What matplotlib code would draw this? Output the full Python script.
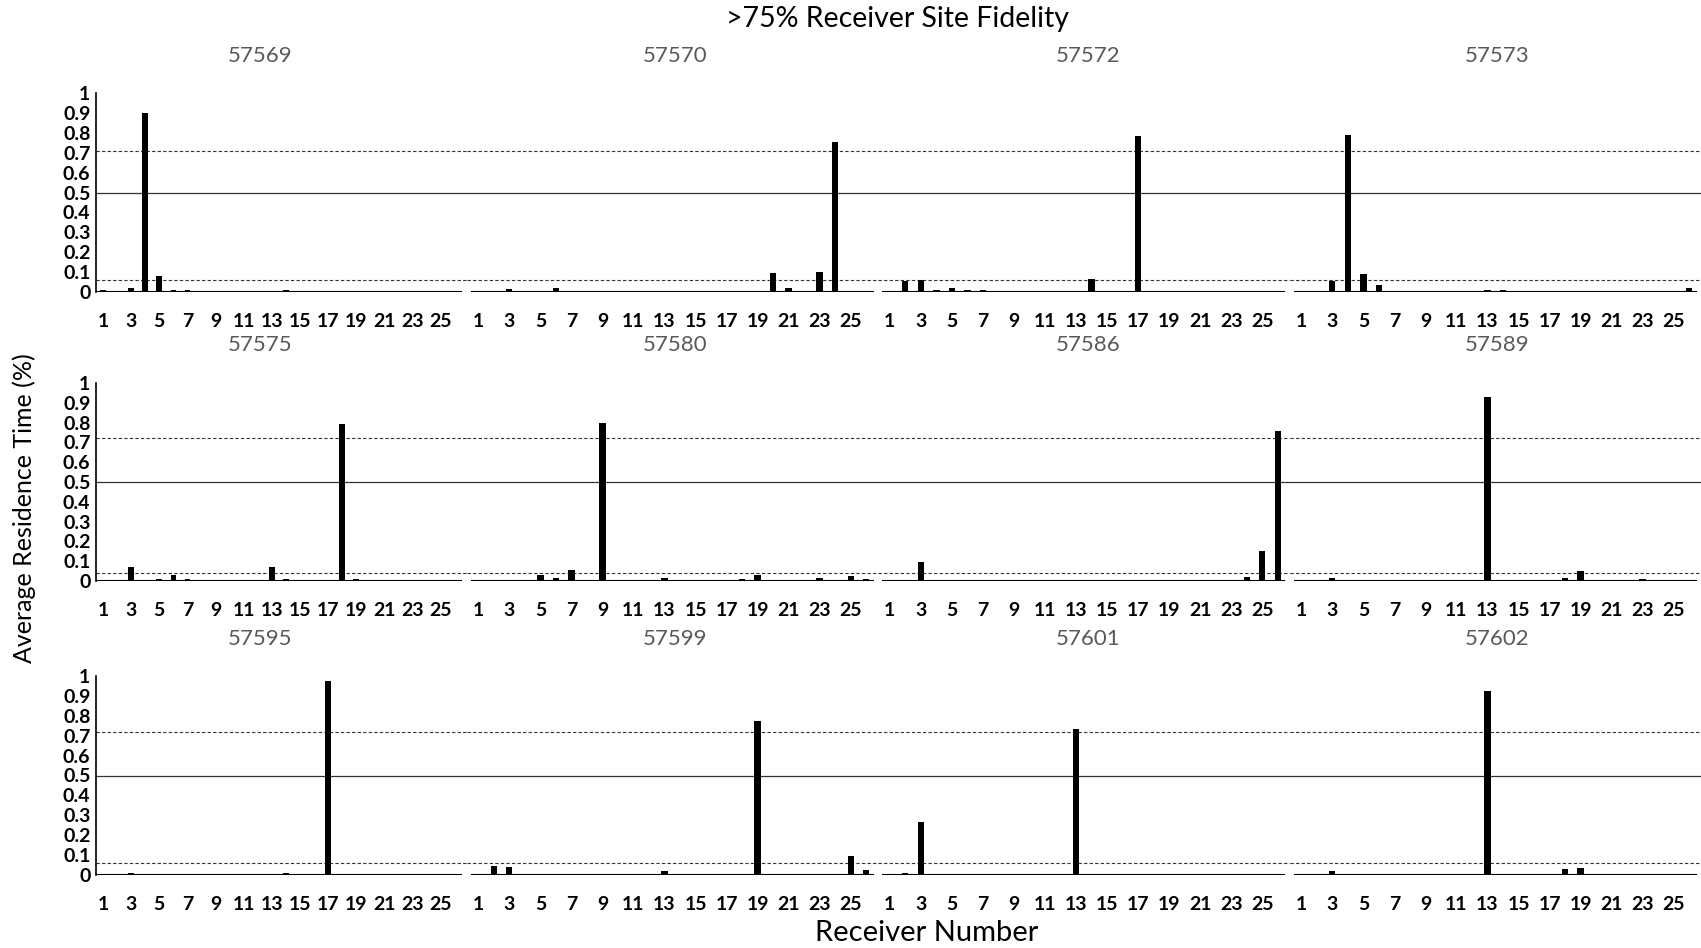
import numpy as np
import matplotlib.pyplot as plt

plt.rcParams['font.family'] = ['Lato', 'DejaVu Sans']

# ── Data ──────────────────────────────────────────────────────────────────────
receivers = list(range(1, 27))
tick_receivers = list(range(1, 26, 2))

tag_57569 = [0.008, 0, 0.018, 0.90, 0.082, 0.008, 0.008, 0, 0, 0, 0, 0, 0,
             0.008, 0, 0, 0.007, 0, 0, 0, 0, 0, 0, 0, 0, 0]
tag_57570 = [0.007, 0.007, 0.013, 0.007, 0.007, 0.018, 0.007, 0, 0, 0, 0, 0,
             0.007, 0.007, 0, 0, 0.007, 0.007, 0.007, 0.096, 0.022, 0, 0.10,
             0.753, 0.007, 0]
tag_57572 = [0.007, 0.054, 0.060, 0.010, 0.018, 0.008, 0.010, 0, 0, 0, 0, 0,
             0, 0.065, 0, 0, 0.784, 0, 0, 0.007, 0, 0, 0, 0.007, 0, 0]
tag_57573 = [0.007, 0, 0.054, 0.787, 0.091, 0.035, 0.007, 0, 0.007, 0, 0.007,
             0, 0.010, 0.010, 0, 0, 0, 0, 0, 0.007, 0, 0, 0, 0.007, 0, 0.018]
tag_57575 = [0.007, 0.007, 0.072, 0.007, 0.012, 0.029, 0.008, 0.007, 0.007,
             0, 0, 0, 0.072, 0.009, 0, 0, 0, 0.793, 0.008, 0.007, 0.007, 0, 0,
             0.007, 0.007, 0.007]
tag_57580 = [0, 0, 0.007, 0.007, 0.030, 0.013, 0.056, 0.007, 0.798, 0, 0,
             0.007, 0.017, 0.007, 0, 0.007, 0.007, 0.010, 0.030, 0.007, 0.007,
             0.007, 0.017, 0.007, 0.025, 0.012]
tag_57586 = [0, 0, 0.094, 0, 0, 0, 0, 0, 0, 0, 0, 0, 0.006, 0, 0, 0, 0, 0, 0,
             0, 0, 0, 0, 0.022, 0.150, 0.758]
tag_57589 = [0.007, 0, 0.017, 0.007, 0.007, 0, 0, 0, 0, 0, 0, 0, 0.929, 0.007,
             0, 0, 0, 0.013, 0.049, 0.007, 0.007, 0.007, 0.009, 0, 0, 0]
tag_57595 = [0, 0.007, 0.010, 0.007, 0.007, 0, 0, 0, 0, 0, 0, 0, 0, 0.012, 0,
             0, 0.975, 0, 0, 0.007, 0, 0, 0, 0, 0, 0]
tag_57599 = [0.007, 0.044, 0.040, 0, 0, 0, 0, 0, 0, 0, 0, 0, 0.018, 0, 0, 0,
             0, 0.007, 0.774, 0.007, 0.007, 0, 0, 0.007, 0.095, 0.027]
tag_57601 = [0.007, 0.009, 0.265, 0, 0, 0, 0, 0, 0, 0, 0, 0, 0.735, 0, 0, 0,
             0, 0, 0, 0, 0, 0, 0, 0.007, 0.007, 0]
tag_57602 = [0.007, 0.007, 0.018, 0, 0, 0, 0, 0, 0, 0, 0, 0, 0.923, 0.007, 0,
             0, 0, 0.028, 0.037, 0.007, 0.007, 0, 0, 0.007, 0, 0]

row_tags = [
    [('57569', tag_57569), ('57570', tag_57570), ('57572', tag_57572), ('57573', tag_57573)],
    [('57575', tag_57575), ('57580', tag_57580), ('57586', tag_57586), ('57589', tag_57589)],
    [('57595', tag_57595), ('57599', tag_57599), ('57601', tag_57601), ('57602', tag_57602)],
]

# reference lines per row (dashed upper / lower, solid 0.5)
upper_ref = [0.707, 0.724, 0.719]
lower_ref = [0.060, 0.042, 0.059]
mid_ref = 0.5

# ── Layout (pixel geometry of the original, 1701 x 948) ───────────────────────
W, H = 1701, 948
fig = plt.figure(figsize=(W / 100, H / 100), dpi=100)

row_px = [(93, 292), (383, 581), (676, 875)]      # top, bottom of y range 0..1
col_px = [(96, 466.5), (466.5, 878), (878, 1289.5), (1289.5, 1701)]
title_x = [260, 675, 1088, 1497]
title_y = [56, 345, 639]

ytick_vals = [0, 0.1, 0.2, 0.3, 0.4, 0.5, 0.6, 0.7, 0.8, 0.9, 1]
ytick_lbls = ['0', '0.1', '0.2', '0.3', '0.4', '0.5', '0.6', '0.7', '0.8', '0.9', '1']

for r, tags in enumerate(row_tags):
    top, bot = row_px[r]
    for c, (name, vals) in enumerate(tags):
        left, right = col_px[c]
        ax = fig.add_axes([left / W, 1 - bot / H, (right - left) / W, (bot - top) / H])
        ax.set_ylim(0, 1)
        if c == 0:
            ax.set_xlim(0.5, 26.84)
        else:
            ax.set_xlim(0.235, 26.765)

        ax.axhline(mid_ref, color='#333333', lw=0.9, zorder=1)
        ax.axhline(upper_ref[r], color='#333333', lw=0.8, ls=(0, (3, 2)), zorder=1)
        ax.axhline(lower_ref[r], color='#333333', lw=0.8, ls=(0, (3, 2)), zorder=1)

        ax.hlines(0, 0.5, 26.5, color='black', lw=1.5, zorder=2)
        ax.bar(receivers, vals, width=0.4, color='black', zorder=3)

        for s in ax.spines.values():
            s.set_visible(False)
        ax.set_xticks(tick_receivers)
        ax.set_xticklabels([str(t) for t in tick_receivers],
                           fontsize=14, fontweight='bold')
        ax.tick_params(axis='x', length=0, pad=15)
        if c == 0:
            ax.spines['left'].set_visible(True)
            ax.spines['left'].set_linewidth(1.2)
            ax.set_yticks(ytick_vals)
            ax.set_yticklabels(ytick_lbls, fontsize=14, fontweight='bold')
            ax.tick_params(axis='y', length=0, pad=4)
        else:
            ax.set_yticks([])
        ax.patch.set_alpha(0)

        fig.text(title_x[c] / W, 1 - title_y[r] / H, name, ha='center', va='center',
                 fontsize=16, color='#595959')

fig.text(897 / W, 1 - 19 / H, '>75% Receiver Site Fidelity', ha='center',
         va='center', fontsize=20.5, color='black')
fig.text(927 / W, 1 - 933 / H, 'Receiver Number', ha='center', va='center',
         fontsize=21, color='black')
fig.text(24 / W, 1 - 508 / H, 'Average Residence Time (%)', ha='center',
         va='center', rotation=90, fontsize=18, color='black')

fig.savefig('out.png', dpi=100, facecolor='white')
